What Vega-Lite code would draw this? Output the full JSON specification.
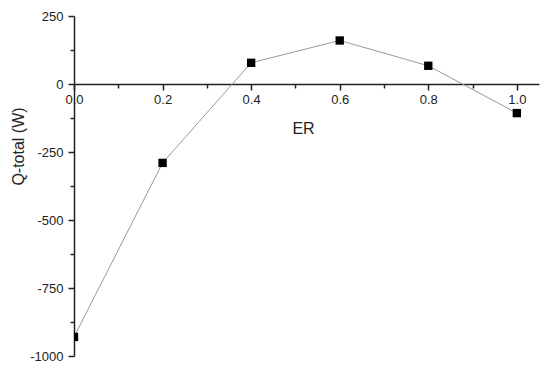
{
  "$schema": "https://vega.github.io/schema/vega-lite/v6.json",
  "width": 465,
  "height": 340,
  "autosize": {"type": "none"},
  "padding": {"left": 74, "top": 16, "right": 11, "bottom": 15},
  "background": "white",
  "config": {
    "view": {"stroke": null},
    "font": "Liberation Sans",
    "axis": {"grid": false, "domainColor": "#222", "tickColor": "#222", "labelColor": "#222", "titleColor": "#222", "domainWidth": 1.5, "tickWidth": 1.5, "labelFont": "Liberation Sans", "titleFont": "Liberation Sans", "labelFontSize": 13, "titleFontSize": 16, "titleFontWeight": "normal"}
  },
  "data": {
    "values": [
      {"ER": 0.0, "Q": -930},
      {"ER": 0.2, "Q": -290},
      {"ER": 0.4, "Q": 78},
      {"ER": 0.6, "Q": 160},
      {"ER": 0.8, "Q": 67},
      {"ER": 1.0, "Q": -107}
    ]
  },
  "layer": [
    {
      "mark": {"type": "line", "color": "#999", "strokeWidth": 1, "clip": true},
      "encoding": {
        "x": {"field": "ER", "type": "quantitative", "scale": {"domain": [0, 1.05], "nice": false, "zero": false},
          "axis": {"orient": "bottom", "offset": -272, "values": [0, 0.2, 0.4, 0.6, 0.8, 1.0], "format": ".1f", "tickSize": 6, "labelPadding": 3, "title": "ER", "titleX": 229, "titleY": 44, "titleBaseline": "middle", "titleAlign": "center", "labelFlush": false}},
        "y": {"field": "Q", "type": "quantitative", "scale": {"domain": [-1000, 250], "nice": false, "zero": false},
          "axis": {"orient": "left", "values": [-1000, -750, -500, -250, 0, 250], "labelExpr": "datum.value < 0 ? '-' + format(-datum.value, 'd') : format(datum.value, 'd')", "tickSize": 6, "labelPadding": 5, "title": "Q-total (W)", "titleAngle": 270, "titleX": -56, "titleY": 130, "titleAlign": "center", "titleBaseline": "middle", "labelFlush": false}}
      }
    },
    {
      "mark": {"type": "point", "shape": "square", "filled": true, "color": "black", "size": 70, "opacity": 1, "clip": true},
      "encoding": {
        "x": {"field": "ER", "type": "quantitative",
          "axis": {"orient": "bottom", "offset": -272, "values": [0.1, 0.3, 0.5, 0.7, 0.9], "tickSize": 4, "labels": false, "domain": false, "title": null}},
        "y": {"field": "Q", "type": "quantitative",
          "axis": {"orient": "left", "values": [-875, -625, -375, -125, 125], "tickSize": 4, "labels": false, "domain": false, "title": null}}
      }
    }
  ],
  "resolve": {"axis": {"x": "independent", "y": "independent"}}
}
